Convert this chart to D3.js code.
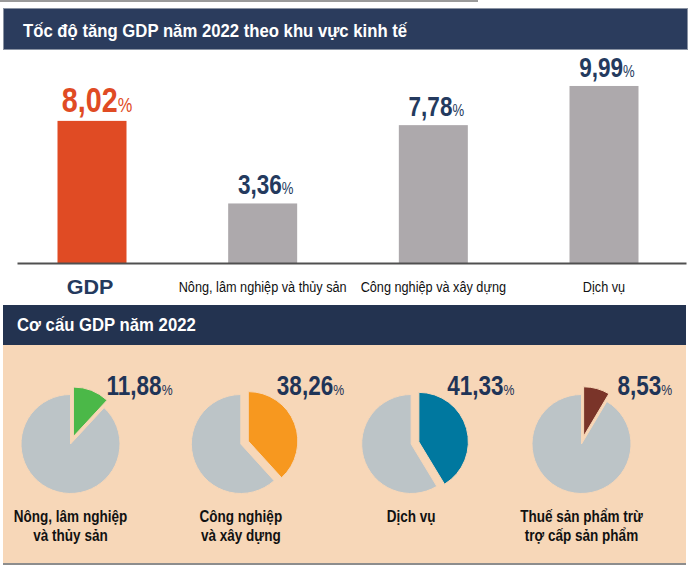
<!DOCTYPE html>
<html><head><meta charset="utf-8">
<script src="https://cdn.jsdelivr.net/npm/d3@7"></script>
<style>
html,body{margin:0;padding:0;background:#fff;}
svg{display:block;}
</style></head>
<body>
<svg id="chart" width="700" height="566"></svg>
<script>
// ---- data ----
const title1 = "Tốc độ tăng GDP năm 2022 theo khu vực kinh tế";
const title2 = "Cơ cấu GDP năm 2022";
const barCategories = ["GDP", "Nông, lâm nghiệp và thủy sản", "Công nghiệp và xây dựng", "Dịch vụ"];
const barValues = [8.02, 3.36, 7.78, 9.99];
const barColors = ["#E04B24", "#ADA9AC", "#ADA9AC", "#ADA9AC"];
const barLabelColors = ["#E04B24", "#243A5E", "#243A5E", "#243A5E"];
const pieCategories = [["Nông, lâm nghiệp", "và thủy sản"], ["Công nghiệp", "và xây dựng"], ["Dịch vụ"], ["Thuế sản phẩm trừ", "trợ cấp sản phẩm"]];
const pieShares = [11.88, 38.26, 41.33, 8.53];
const pieColors = ["#4BB848", "#F7981F", "#00789F", "#7A3429"];

const loc = d3.formatLocale({decimal: ",", thousands: ".", grouping: [3], currency: ["", ""]});
const fmt = loc.format(".2f");

const svg = d3.select("#chart");
const FONT = '"Liberation Sans",Arial,sans-serif';
const NARROW = 0.82; // horizontal condensation to mimic Arial Narrow

// top rule
svg.append("rect").attr("x", 0).attr("y", 0).attr("width", 478).attr("height", 2).attr("fill", "#9a9a9a");

// header 1
svg.append("rect").attr("x", 3.5).attr("y", 8.5).attr("width", 684).attr("height", 41)
  .attr("fill", "#2B3C5D").attr("stroke", "#8a93a3").attr("stroke-width", 1);
svg.append("text").attr("transform", "translate(23,36.5) scale(0.955,1)").attr("fill", "#fff")
  .attr("font-family", FONT).attr("font-weight", "bold").attr("font-size", 17.5)
  .text(title1);

// bar chart
const baseY = 263;
const x = d3.scalePoint().domain(barCategories).range([92, 604]);
const y = d3.scaleLinear().domain([0, 10]).range([baseY, baseY - 177.2]);
const bw = 69;

svg.append("g").selectAll("rect").data(barValues).join("rect")
  .attr("x", (d, i) => x(barCategories[i]) - bw / 2)
  .attr("y", d => y(d))
  .attr("width", bw)
  .attr("height", d => baseY - y(d))
  .attr("fill", (d, i) => barColors[i]);

// axis baseline
const axis = svg.append("g").attr("transform", `translate(0,${baseY})`)
  .call(d3.axisBottom(d3.scaleLinear().domain([0, 1]).range([17, 686])).ticks(0).tickSize(0).tickFormat(""));
axis.select(".domain").attr("stroke", "#505050").attr("stroke-width", 2);

// value labels
const vl = svg.append("g").selectAll("text").data(barValues).join("text")
  .attr("transform", (d, i) => `translate(${x(barCategories[i]) + (i === 0 ? 5 : 3)},${y(d) - 9}) scale(${NARROW},1)`)
  .attr("text-anchor", "middle")
  .attr("font-family", FONT).attr("font-weight", "bold")
  .attr("fill", (d, i) => barLabelColors[i]);
vl.append("tspan").attr("font-size", (d, i) => i === 0 ? 35 : 27.5).text(d => fmt(d));
vl.append("tspan").attr("font-size", (d, i) => i === 0 ? 20 : 16).attr("font-weight", "normal").text("%");

// category labels
svg.append("g").selectAll("text").data(barCategories).join("text")
  .attr("transform", (d, i) => `translate(${x(d) + (i === 0 ? -2 : 0)},${i === 0 ? 294 : 292}) scale(${i === 0 ? 1.05 : NARROW},1)`)
  .attr("text-anchor", "middle")
  .attr("font-family", FONT)
  .attr("font-weight", (d, i) => i === 0 ? "bold" : "normal")
  .attr("font-size", (d, i) => i === 0 ? 20.5 : 15.5)
  .attr("fill", (d, i) => i === 0 ? "#243A5E" : "#111")
  .text(d => d);

// header 2
svg.append("rect").attr("x", 3).attr("y", 305).attr("width", 683).attr("height", 40).attr("fill", "#233350");
svg.append("text").attr("transform", "translate(17,330.5) scale(0.955,1)").attr("fill", "#fff")
  .attr("font-family", FONT).attr("font-weight", "bold").attr("font-size", 17.5)
  .text(title2);

// peach panel
svg.append("rect").attr("x", 3).attr("y", 345).attr("width", 683).attr("height", 218).attr("fill", "#F7D7B8");
svg.append("rect").attr("x", 3).attr("y", 563).attr("width", 683).attr("height", 2).attr("fill", "#8d8d8d");

// pies
const px = d3.scalePoint().domain(d3.range(pieShares.length)).range([70.5, 581.5]);
const pcy = 444;
const R = 49.5;
const explode = 8;
const pie = d3.pie().sort(null).value(d => d);
const arc = d3.arc().innerRadius(0).outerRadius(R);

pieShares.forEach((share, i) => {
  const g = svg.append("g").attr("transform", `translate(${px(i)},${pcy})`);
  const arcs = pie([share, 100 - share]);
  g.selectAll("path").data(arcs).join("path")
    .attr("d", arc)
    .attr("fill", (d, j) => j === 0 ? pieColors[i] : "#BCC4C7")
    .attr("stroke", "#F7D7B8").attr("stroke-width", 1)
    .attr("transform", (d, j) => {
      if (j !== 0) return null;
      const a = (d.startAngle + d.endAngle) / 2;
      return `translate(${Math.sin(a) * explode},${-Math.cos(a) * explode})`;
    });
  // value label
  const t = svg.append("text").attr("transform", `translate(${px(i) + 36},394.5) scale(${NARROW},1)`)
    .attr("font-family", FONT).attr("font-weight", "bold").attr("fill", "#1F3457");
  t.append("tspan").attr("font-size", 27.5).text(fmt(share));
  t.append("tspan").attr("font-size", 15).attr("font-weight", "normal").text("%");
  // category label
  const c = svg.append("text").attr("transform", `translate(${px(i)},521.5) scale(${NARROW},1)`)
    .attr("text-anchor", "middle").attr("font-family", FONT).attr("font-weight", "bold")
    .attr("font-size", 16.5).attr("fill", "#111");
  c.selectAll("tspan").data(pieCategories[i]).join("tspan")
    .attr("x", 0).attr("dy", (d, j) => j === 0 ? 0 : 19.5).text(d => d);
});
</script>
</body></html>
